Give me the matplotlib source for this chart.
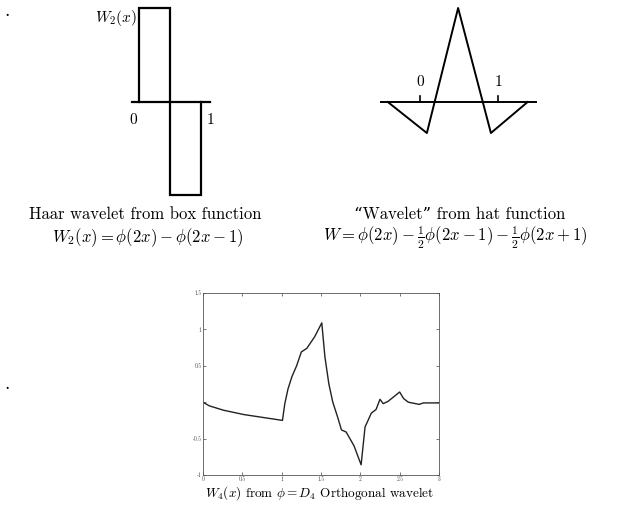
import matplotlib.pyplot as plt

plt.rcParams['font.family'] = ['cmr10', 'DejaVu Serif']
plt.rcParams['mathtext.fontset'] = 'cm'
plt.rcParams['axes.unicode_minus'] = False
plt.rcParams['axes.formatter.use_mathtext'] = True

# Haar wavelet: +1 on [0, 1/2), -1 on [1/2, 1)
haar_x = [0, 0, 0.5, 0.5, 1, 1]
haar_y = [0, 1, 1, -1, -1, 0]

# hat "wavelet" corner points
hat_x = [-0.41, 0.09, 0.49, 0.91, 1.38]
hat_y = [0, -0.33, 1, -0.33, 0]

# D4 wavelet samples
d4_x = [0, 0.08, 0.26, 0.52, 1.01, 1.04, 1.08, 1.13, 1.19, 1.25, 1.32, 1.42, 1.51,
        1.55, 1.60, 1.65, 1.71, 1.76, 1.82, 1.92, 2.01, 2.06, 2.14, 2.20, 2.25,
        2.29, 2.35, 2.42, 2.50, 2.55, 2.61, 2.75, 2.80, 3.0]
d4_y = [0.0, -0.05, -0.11, -0.17, -0.25, -0.02, 0.18, 0.35, 0.50, 0.69, 0.74, 0.90,
        1.09, 0.62, 0.25, 0.0, -0.20, -0.38, -0.41, -0.60, -0.86, -0.34, -0.15,
        -0.10, 0.04, -0.02, 0.01, 0.07, 0.14, 0.05, 0.0, -0.03, -0.01, -0.01]
d4_xticks = [0, 0.5, 1, 1.5, 2, 2.5, 3]
d4_xlabels = ['0', '0.5', '1', '1.5', '2', '2.5', '3']
d4_yticks = [-1, -0.5, 0, 0.5, 1, 1.5]
d4_ylabels = ['-1', '-0.5', '', '0.5', '1', '1.5']

W, H = 619, 508
fig = plt.figure(figsize=(W / 100, H / 100), dpi=100)


def px_axes(x0, y0, x1, y1):
    # axes from pixel box (top-left origin)
    return fig.add_axes([x0 / W, 1 - y1 / H, (x1 - x0) / W, (y1 - y0) / H])


# --- Haar panel ---
ax1 = px_axes(132, 8, 210, 195)
ax1.plot(haar_x, haar_y, color='black', lw=1.6, solid_joinstyle='miter')
ax1.plot([-0.11, 1.14], [0, 0], color='black', lw=1.6)
ax1.set_xlim(-0.11, 1.14)
ax1.set_ylim(-1, 1)
ax1.axis('off')
for ln in ax1.lines:
    ln.set_clip_on(False)
fig.text(133 / W, 1 - 120 / H, '0', fontsize=11, ha='center', va='center')
fig.text(211 / W, 1 - 120 / H, '1', fontsize=11, ha='center', va='center')
fig.text(137 / W, 1 - 18 / H, r'$W_2(x)$', fontsize=11, ha='right', va='center')

# --- hat panel ---
ax2 = px_axes(380, 3.3, 537, 139.6)
ax2.plot(hat_x, hat_y, color='black', lw=1.4)
ax2.plot([-0.51, 1.5], [0, 0], color='black', lw=1.4)
for t in (0, 1):
    ax2.plot([t, t], [0, 0.06], color='black', lw=1.2)
ax2.set_xlim(-0.51, 1.5)
ax2.set_ylim(-0.4, 1.05)
ax2.axis('off')
fig.text(420 / W, 1 - 82 / H, '0', fontsize=11, ha='center', va='center')
fig.text(498 / W, 1 - 82 / H, '1', fontsize=11, ha='center', va='center')

# --- captions ---
fig.text(145 / W, 1 - 214 / H, 'Haar wavelet from box function',
         fontsize=12, ha='center', va='center')
fig.text(148 / W, 1 - 238 / H, r'$W_2(x) = \phi(2x) - \phi(2x-1)$',
         fontsize=12, ha='center', va='center')
fig.text(460 / W, 1 - 214 / H, '\u201cWavelet\u201d from hat function',
         fontsize=12, ha='center', va='center')
fig.text(455 / W, 1 - 238 / H,
         r'$W = \phi(2x) - \frac{1}{2}\phi(2x-1) - \frac{1}{2}\phi(2x+1)$',
         fontsize=12, ha='center', va='center')

# --- D4 panel ---
ax3 = px_axes(203, 293, 439, 475)
ax3.plot(d4_x, d4_y, color='#222222', lw=1.0)
ax3.set_xlim(0, 3)
ax3.set_ylim(-1, 1.5)
ax3.set_xticks(d4_xticks)
ax3.set_xticklabels(d4_xlabels)
ax3.set_yticks(d4_yticks)
ax3.set_yticklabels(d4_ylabels)
ax3.tick_params(direction='in', length=2, width=0.5, labelsize=4, pad=1,
                top=True, right=True, colors='#444444')
for sp in ax3.spines.values():
    sp.set_linewidth(0.6)
    sp.set_color('#555555')
fig.text(320 / W, 1 - 493 / H,
         r'$W_4(x)$ from $\phi = D_4$ Orthogonal wavelet',
         fontsize=9.5, ha='center', va='center')

# stray marks at the left margin
fig.text(7 / W, 1 - 11 / H, '.', fontsize=14, ha='center', va='center')
fig.text(7 / W, 1 - 384 / H, '.', fontsize=14, ha='center', va='center')

fig.savefig('out.png', dpi=100)
